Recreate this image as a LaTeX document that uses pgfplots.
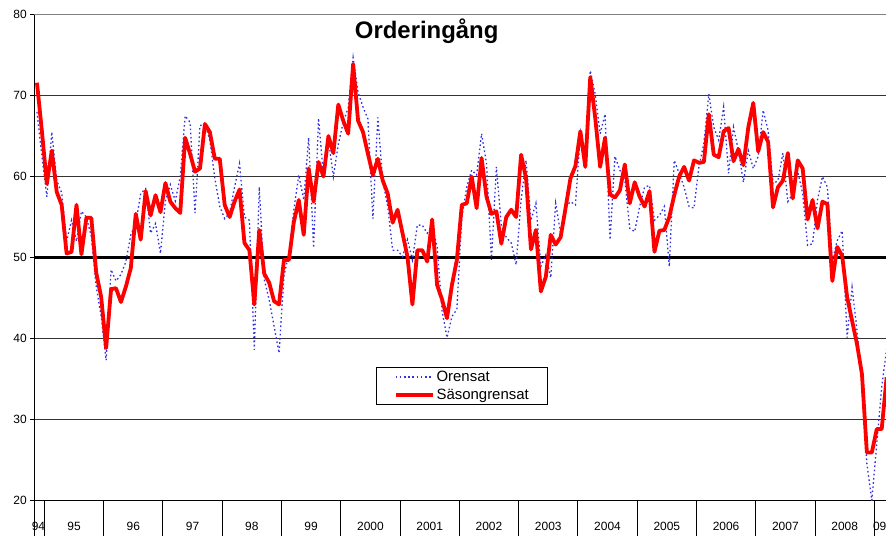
\documentclass[border=0pt]{standalone}
\usepackage{fontspec}
\setmainfont{Liberation Sans}
\usepackage{pgfplots}
\usepackage{pgfplotstable}
\pgfplotsset{compat=1.18}
\definecolor{redline}{RGB}{255,0,0}
\definecolor{blueline}{RGB}{50,50,225}
\pgfplotstableread{
i orensat sasong
0 68.0 71.6
1 62.5 65.6
2 57.5 59.1
3 65.5 63.2
4 59.5 58.1
5 58.0 56.5
6 52.0 50.5
7 54.6 50.7
8 52.0 56.5
9 55.7 50.4
10 55.0 54.9
11 52.6 54.9
12 46.4 48.1
13 42.7 45.1
14 37.3 38.8
15 48.5 46.1
16 47.1 46.2
17 47.9 44.5
18 49.5 46.4
19 52.8 48.7
20 54.2 55.4
21 57.9 52.2
22 58.5 58.2
23 53.0 55.2
24 54.2 57.7
25 50.5 55.6
26 57.0 59.2
27 59.0 56.9
28 57.0 56.1
29 60.0 55.5
30 67.5 64.8
31 66.7 62.8
32 55.5 60.6
33 66.3 61.0
34 66.5 66.5
35 64.5 65.5
36 59.8 62.2
37 56.3 62.2
38 54.8 56.5
39 55.5 55.0
40 58.7 56.9
41 61.6 58.4
42 55.0 51.8
43 54.6 50.9
44 38.6 44.2
45 58.7 53.4
46 47.3 48.0
47 44.8 46.9
48 41.5 44.6
49 38.2 44.2
50 47.7 49.7
51 50.5 49.7
52 55.9 54.4
53 60.2 57.1
54 57.1 52.8
55 64.8 61.0
56 51.2 56.9
57 67.2 61.8
58 60.0 60.0
59 64.6 65.0
60 60.0 62.9
61 64.0 68.9
62 66.7 66.9
63 68.5 65.3
64 74.7 73.9
65 70.4 66.9
66 68.6 65.5
67 67.1 62.8
68 54.8 60.2
69 67.3 62.2
70 59.5 59.5
71 56.3 57.9
72 50.9 54.3
73 50.9 55.9
74 50.1 53.0
75 52.2 50.1
76 49.7 44.2
77 54.0 50.9
78 54.0 50.9
79 53.0 49.5
80 53.8 54.7
81 51.4 46.6
82 43.4 44.8
83 40.1 42.5
84 42.7 46.6
85 43.6 49.7
86 55.0 56.5
87 58.7 56.7
88 60.8 60.0
89 60.2 56.1
90 65.3 62.3
91 61.6 57.5
92 49.7 55.4
93 61.2 55.7
94 54.0 51.7
95 52.5 55.0
96 51.8 55.9
97 49.1 55.0
98 57.1 62.7
99 62.0 59.8
100 54.6 51.0
101 56.7 53.4
102 48.9 45.8
103 50.3 47.6
104 47.5 52.8
105 56.7 51.6
106 53.0 52.5
107 56.3 56.1
108 56.9 59.8
109 56.5 61.3
110 65.3 65.6
111 61.0 61.2
112 73.1 72.3
113 70.2 67.3
114 65.3 61.2
115 67.7 64.8
116 52.2 57.8
117 62.5 57.4
118 60.8 58.3
119 59.5 61.5
120 53.6 56.7
121 53.2 59.3
122 56.3 57.5
123 58.7 56.3
124 58.9 58.2
125 54.6 50.7
126 55.2 53.3
127 56.3 53.4
128 48.9 55.0
129 62.0 57.7
130 60.4 60.0
131 58.7 61.2
132 56.3 59.5
133 56.1 62.0
134 61.2 61.7
135 64.1 61.8
136 70.2 67.7
137 66.1 62.7
138 64.5 62.4
139 68.6 65.6
140 60.4 66.0
141 66.1 61.9
142 63.2 63.4
143 59.3 61.4
144 63.2 66.1
145 61.0 69.1
146 62.5 63.1
147 68.2 65.5
148 65.7 64.3
149 59.1 56.2
150 59.5 58.7
151 62.9 59.5
152 56.9 62.9
153 57.9 57.3
154 60.6 62.0
155 57.9 61.0
156 51.5 54.7
157 51.7 57.1
158 57.1 53.6
159 60.0 56.9
160 58.7 56.6
161 49.6 47.1
162 52.1 51.3
163 53.3 50.2
164 40.1 45.1
165 46.3 42.2
166 41.0 39.3
167 34.5 35.6
168 24.5 25.9
169 20.0 25.9
170 27.0 28.8
171 34.0 28.8
172 38.7 35.2
}\datatable
\begin{document}
\begin{tikzpicture}
\useasboundingbox (-34.5bp,-35.7bp) rectangle (851.5bp,500.3bp);
\begin{axis}[
  at={(0,0)}, anchor=south west,
  scale only axis, width=851.5bp, height=485.6bp,
  xmin=-0.5, xmax=171.87, ymin=20, ymax=80,
  axis x line*=bottom, axis y line*=left,
  axis line style={black, line width=0.9bp},
  ytick={20,30,...,70},
  extra y ticks={80},
  extra y tick style={grid style={black!50, line width=0.9bp}},
  ymajorgrids,
  grid style={black!80, line width=0.9bp},
  tick align=outside,
  xtick={-0.5,1.5,13.5,...,169.5},
  xticklabels={},
  xtick style={black, line width=0.9bp, /pgfplots/major tick length=36bp},
  ytick style={black, line width=0.9bp, /pgfplots/major tick length=4bp},
  extra x ticks={0.3,7.5,19.5,31.5,43.5,55.5,67.5,79.5,91.5,103.5,115.5,127.5,139.5,151.5,163.5,170.6},
  extra x tick labels={94,95,96,97,98,99,2000,2001,2002,2003,2004,2005,2006,2007,2008,09},
  extra x tick style={/pgfplots/major tick length=0bp, tick style={draw=none}, xticklabel style={yshift=-18bp}},
  tick label style={font=\fontsize{12}{14}\selectfont},
  /pgf/number format/assume math mode=true,
  title={\bfseries Orderingång},
  title style={at={(rel axis cs:0.4606,0.954)}, anchor=center, font=\fontsize{24}{28}\selectfont},
  legend style={at={(rel axis cs:0.4015,0.2745)}, anchor=north west, draw=black, line width=0.8bp,
    font=\fontsize{15}{16}\selectfont, inner xsep=17bp, inner ysep=1.5bp, row sep=2.5bp},
  legend cell align=left,
  legend image code/.code={\draw[#1] (0bp,0bp) -- (37bp,0bp);},
]
\addplot[black, line width=3.3bp, forget plot] coordinates {(-0.5,50) (173,50)};
\addplot[blueline, line width=1.3bp, dash pattern=on 1.6bp off 2.6bp] table[x=i, y=orensat] {\datatable};
\addlegendentry{Orensat}
\addplot[redline, line width=3.8bp, line join=round] table[x=i, y=sasong] {\datatable};
\addlegendentry{Säsongrensat}
\end{axis}
\end{tikzpicture}
\end{document}
